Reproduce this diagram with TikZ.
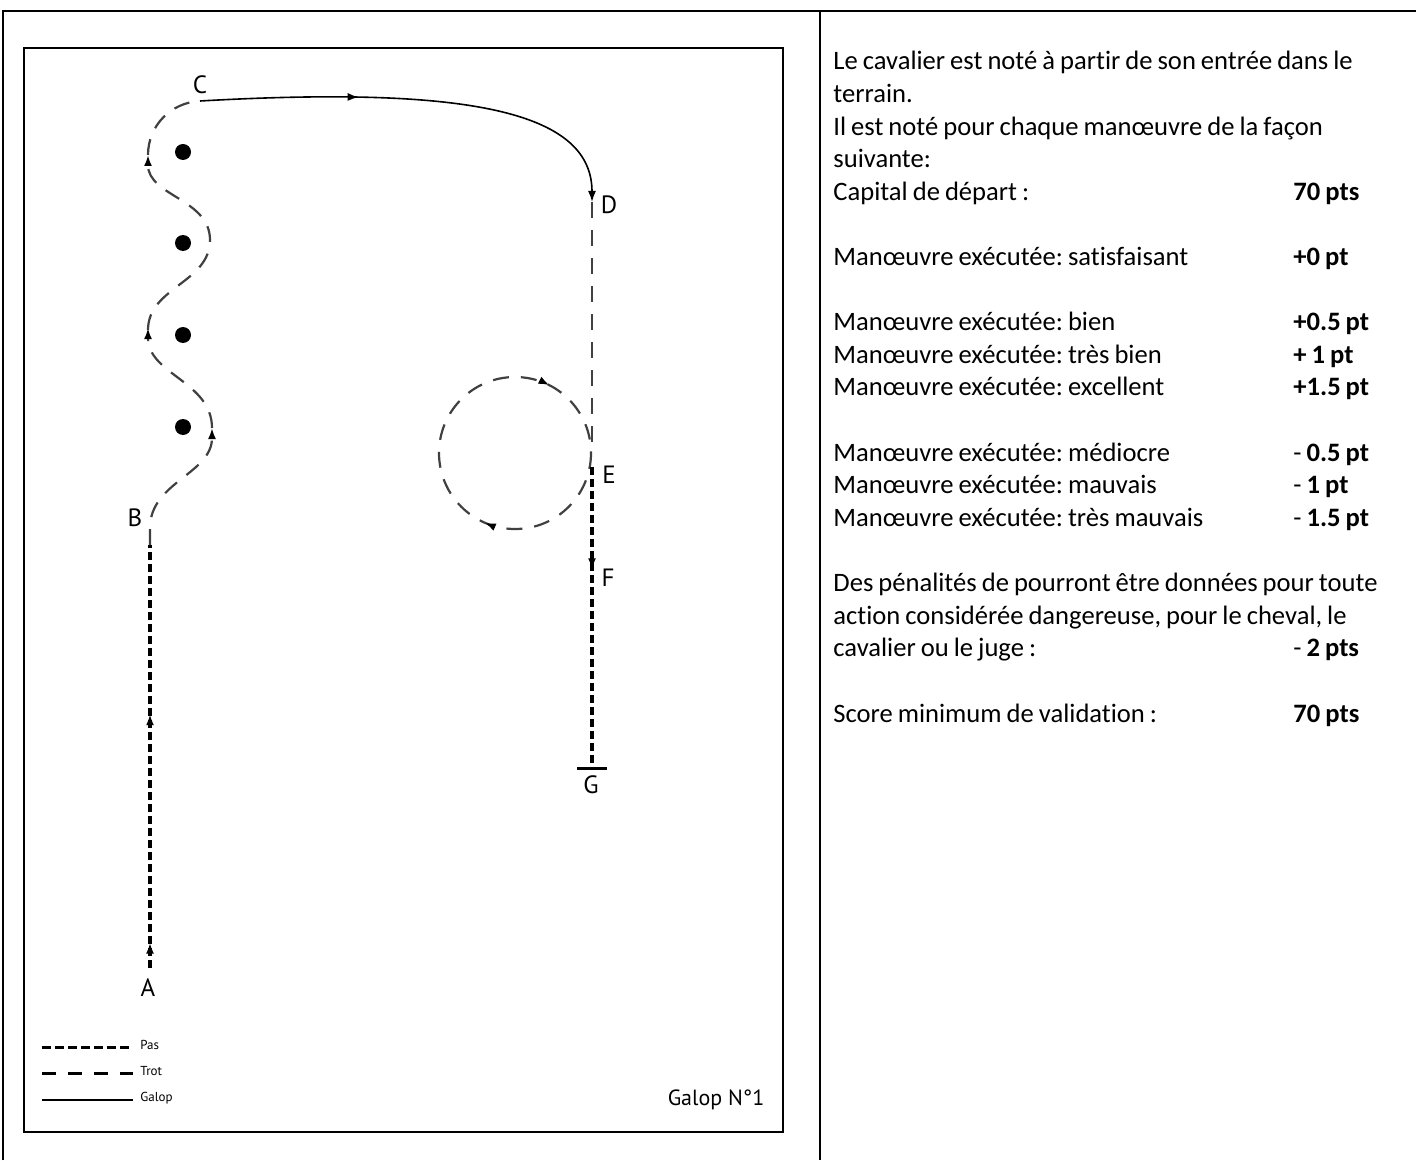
\documentclass[tikz,border=0pt]{standalone}
\usepackage{fontspec}
\setmainfont{Carlito}[Ligatures=NoCommon]
\newfontfamily\planfont{PT Sans}
\usetikzlibrary{arrows.meta,decorations.markings}
\tikzset{
  pas/.style={line width=1.8pt, dash pattern=on 4pt off 2pt},
  trot/.style={line width=1.1pt, black!75, dash pattern=on 8pt off 6pt},
  galop/.style={line width=0.8pt},
  flecheat/.style={postaction={decorate, decoration={markings, mark=at position #1 with {\arrow{>}}}}},
  lettre/.style={font=\planfont\fontsize{12.5}{14}\selectfont, inner sep=0pt},
  titre/.style={font=\planfont\fontsize{11}{13}\selectfont, inner sep=0pt},
  legende/.style={font=\planfont\fontsize{6.5}{7}\selectfont, anchor=west, inner sep=0pt},
}
\newcommand{\ligne}[2]{\makebox[230pt][l]{#1}\textbf{#2}}

\begin{document}
\frenchspacing
\begin{tikzpicture}[x=0.5pt, y=-0.5pt, >={Latex[length=5.5pt,width=4pt,color=black]}]
\useasboundingbox (0,0) rectangle (1416,1160);
% tableau
\draw[line width=0.75pt] (3,1160) -- (3,11) -- (1416,11);
\draw[line width=0.75pt] (820,11) -- (820,1160);
\draw[line width=1pt] (24,48) rectangle (783,1132);

% points du parcours
\coordinate (A) at (150,968);
\coordinate (B) at (150,545);
\coordinate (C) at (200,101);
\coordinate (D) at (592,202);
\coordinate (E) at (592,467);
\coordinate (G) at (592,768);

\node[lettre] (labA) at (148,988) {A};
\node[lettre] (labB) at (135,518) {B};
\node[lettre] (labC) at (200,85) {C};
\node[lettre] (labD) at (609,205) {D};
\node[lettre] (labE) at (609,475) {E};
\node[lettre] (labF) at (608,578) {F};
\node[lettre] (labG) at (591,785) {G};

% plots
\foreach \y in {152,243,335,427} \fill (183,\y) circle[radius=8];

% pas A-B
\draw[pas, flecheat=0.06, flecheat=0.6] (A) -- (B);
% trot, serpentine
\draw[trot,->] (B) -- (150,528) to[out=90,in=-90] (212,428);
\draw[trot,->] (212,428) to[out=90,in=-90] (148,328);
\draw[trot,->] (148,330) to[out=90,in=-90] (210,240) to[out=90,in=-90] (148,155);
\draw[trot] (148,155) to[out=90,in=183] (C);
% galop C-D
\draw[galop, flecheat=0.36, ->] (C) .. controls (480,85) and (592,115) .. (D);
% trot D, volte
\draw[trot] (D) -- (592,447);
\draw[trot, flecheat=0.315, flecheat=0.825] (591,453) arc[start angle=0, end angle=360, radius=76];
% pas E-G
\draw[pas, flecheat=0.34] (E) -- (G);
\draw[line width=1.5pt] (577,768) -- (607,768);

% legende
\draw[line width=1.5pt, dash pattern=on 4.5pt off 2pt] (42,1047) -- (133,1047);
\draw[line width=1.5pt, dash pattern=on 7pt off 6pt] (42,1073) -- (133,1073);
\draw[line width=1.3pt] (42,1100) -- (133,1100);
\node[legende] (legpas) at (140,1045) {Pas};
\node[legende] (legtrot) at (140,1071) {Trot};
\node[legende] (leggalop) at (140,1098) {Galop};
\node[titre] (galopn) at (716,1100) {Galop N°1};

% bareme
\node[anchor=base west, inner sep=0pt, text width=295pt, align=left,
      font=\fontsize{13.3}{16.3}\selectfont] (bareme) at (833,70) {%
\spaceskip=2.5pt plus 1pt minus 0.5pt\relax
Le cavalier est noté à partir de son entrée dans le\\
terrain.\\
Il est noté pour chaque manœuvre de la façon\\
suivante:\\
\ligne{Capital de départ :}{70 pts}\\[16.3pt]
\ligne{Manœuvre exécutée: satisfaisant}{+0 pt}\\[16.3pt]
\ligne{Manœuvre exécutée: bien}{+0.5 pt}\\
\ligne{Manœuvre exécutée: très bien}{+ 1 pt}\\
\ligne{Manœuvre exécutée: excellent}{+1.5 pt}\\[16.3pt]
\ligne{Manœuvre exécutée: médiocre}{\textmd{-} 0.5 pt}\\
\ligne{Manœuvre exécutée: mauvais}{\textmd{-} 1 pt}\\
\ligne{Manœuvre exécutée: très mauvais}{\textmd{-} 1.5 pt}\\[16.3pt]
Des pénalités de pourront être données pour toute\\
action considérée dangereuse, pour le cheval, le\\
\ligne{cavalier ou le juge :}{\textmd{-} 2 pts}\\[16.3pt]
\ligne{Score minimum de validation :}{70 pts}};
\end{tikzpicture}
\end{document}
